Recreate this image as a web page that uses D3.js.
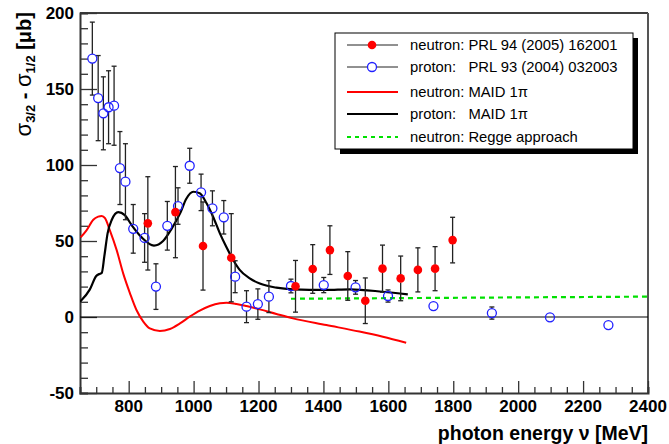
<!DOCTYPE html>
<html>
<head>
<meta charset="utf-8">
<script src="https://cdn.jsdelivr.net/npm/d3@7"></script>
<style>
  body { margin: 0; background: #fff; }
  svg { font-family: "Liberation Sans", Arial, sans-serif; }
</style>
</head>
<body>
<svg id="svg" width="669" height="444"></svg>
<script>
"use strict";

// neutron data, PRL 94 (2005) 162001
const neutronE = [859, 944, 1029, 1116, 1314, 1367, 1420, 1475, 1529, 1582, 1638, 1691, 1744, 1798];
const neutronV = [61.6, 69, 46.7, 39, 20.2, 31.6, 44, 27, 10.7, 31.8, 25.4, 31, 31.8, 50.6];
const neutronErr = [30.7, 30, 29, 29, 17, 16, 16, 16, 15, 15.5, 14.7, 14.5, 14.5, 15];

// proton data, PRL 93 (2004) 032003
const protonE = [688, 706, 722, 738, 755, 773, 790, 814, 849, 884, 919, 952, 988, 1023, 1058, 1093, 1128, 1163, 1198, 1232, 1300, 1401, 1499, 1599, 1739, 1919, 2098, 2278];
const protonV = [170, 144, 134, 138, 139, 98, 89, 58, 52, 20, 60, 73, 99.5, 82, 71.5, 65.6, 26.5, 6.8, 8.5, 13.4, 20.4, 21, 19.5, 13.8, 7.2, 2.6, -0.2, -5.3];
const protonErr = [24, 28, 24, 24, 26, 24, 25, 16, 16, 15, 16, 12, 11.5, 12, 11.5, 11, 10.5, 10.5, 10, 10.5, 4.5, 5, 4.5, 4, 0, 4, 0, 0];

// MAID 1pi curves
const maidProtonE = [650, 680, 700, 712, 717, 725, 735, 748, 768, 788, 809, 840, 878, 906, 932, 958, 978, 999, 1019, 1040, 1060, 1081, 1101, 1122, 1142, 1173, 1204, 1255, 1306, 1408, 1481, 1583, 1660];
const maidProtonV = [10, 18, 27, 28.5, 29, 40, 55, 64, 69, 67, 60.5, 52.4, 47, 50, 58, 68, 78, 82.4, 81.4, 74.8, 66, 55, 46, 37.5, 31, 25.4, 22, 19.3, 18.2, 17.8, 18.2, 16.6, 14.9];
const maidNeutronE = [652, 670, 691, 706, 717, 727, 742, 763, 783, 804, 824, 845, 865, 896, 927, 958, 988, 1019, 1050, 1081, 1101, 1132, 1163, 1204, 1255, 1306, 1409, 1511, 1583, 1655];
const maidNeutronV = [52.4, 57, 64, 66, 66.5, 65, 57, 44, 28.7, 15.6, 4.6, -3, -7.5, -9.2, -7.9, -4.2, 0.2, 4.2, 7.2, 9, 9.4, 8.6, 7.2, 5, 2, -0.9, -5.3, -9.6, -13, -16.9];

// Regge approach (neutron)
const reggeE = [1300, 1700, 2000, 2400];
const reggeV = [12, 12.5, 12.9, 13.4];

const xTicks = [800, 1000, 1200, 1400, 1600, 1800, 2000, 2200, 2400];
const yTicks = [-50, 0, 50, 100, 150, 200];

const legendLabels = [
    "neutron: PRL 94 (2005) 162001",
    "proton:   PRL 93 (2004) 032003",
    "neutron: MAID 1\u03c0",
    "proton:   MAID 1\u03c0",
    "neutron: Regge approach"
];

const plotLeft = 80, plotRight = 648, plotTop = 13, plotBottom = 393;
const axisColor = "#333";

var svg = d3.select("svg");

var x = d3.scaleLinear().domain([650, 2400]).range([plotLeft, plotRight]);
var y = d3.scaleLinear().domain([-50, 200]).range([plotBottom, plotTop]);

svg.append("clipPath").attr("id", "plotclip")
    .append("rect")
        .attr("x", plotLeft).attr("y", plotTop)
        .attr("width", plotRight - plotLeft).attr("height", plotBottom - plotTop);

// frame: top and right
svg.append("line")
    .attr("x1", plotLeft).attr("x2", plotRight).attr("y1", plotTop).attr("y2", plotTop)
    .attr("stroke", "#000").attr("stroke-width", 1.5);
svg.append("line")
    .attr("x1", plotRight).attr("x2", plotRight).attr("y1", plotTop).attr("y2", plotBottom)
    .attr("stroke", "#555").attr("stroke-width", 2);

// axes with inward ticks
var xAxis = svg.append("g").attr("transform", "translate(0," + plotBottom + ")");
xAxis.call(d3.axisBottom(x).tickValues(d3.range(700, 2401, 50)).tickSize(-6).tickFormat(""));
xAxis.selectAll(".tick line").filter(d => d % 200 === 0).attr("y2", -12);
xAxis.selectAll(".tick line").attr("stroke", axisColor).attr("stroke-width", 1.3);
xAxis.select(".domain").attr("stroke", axisColor).attr("stroke-width", 2);

var yAxis = svg.append("g").attr("transform", "translate(" + plotLeft + ",0)");
yAxis.call(d3.axisLeft(y).tickValues(d3.range(-50, 201, 10)).tickSize(-8).tickFormat(""));
yAxis.selectAll(".tick line").filter(d => d % 50 === 0).attr("x2", 17);
yAxis.selectAll(".tick line").attr("stroke", axisColor).attr("stroke-width", 1.3);
yAxis.select(".domain").attr("stroke", axisColor).attr("stroke-width", 2);

// tick labels
svg.append("g").selectAll("text")
    .data(xTicks)
    .enter()
    .append("text")
        .attr("x", d => x(d))
        .attr("y", 412)
        .attr("text-anchor", "middle")
        .attr("font-size", 17)
        .attr("font-weight", "bold")
        .text(d => d);

svg.append("g").selectAll("text")
    .data(yTicks)
    .enter()
    .append("text")
        .attr("x", 74)
        .attr("y", d => y(d) + 6)
        .attr("text-anchor", "end")
        .attr("font-size", 17)
        .attr("font-weight", "bold")
        .text(d => d);

// axis titles
svg.append("text")
    .attr("x", 648).attr("y", 440)
    .attr("text-anchor", "end")
    .attr("font-size", 19.5)
    .attr("font-weight", "bold")
    .text("photon energy \u03bd [MeV]");

var ytitle = svg.append("text")
    .attr("transform", "translate(31,12) rotate(-90)")
    .attr("text-anchor", "end")
    .attr("font-size", 20)
    .attr("font-weight", "bold");
ytitle.append("tspan").attr("font-weight", "normal").attr("font-size", 22).text("\u03c3");
ytitle.append("tspan").attr("font-size", 13).attr("dy", 4).text("3/2");
ytitle.append("tspan").attr("dy", -4).text(" - ");
ytitle.append("tspan").attr("font-weight", "normal").attr("font-size", 22).text("\u03c3");
ytitle.append("tspan").attr("font-size", 13).attr("dy", 4).text("1/2");
ytitle.append("tspan").attr("dy", -4).text(" [\u03bcb]");

var plot = svg.append("g").attr("clip-path", "url(#plotclip)");

// zero line
plot.append("line")
    .attr("x1", plotLeft).attr("x2", plotRight)
    .attr("y1", y(0)).attr("y2", y(0))
    .attr("stroke", "#000").attr("stroke-width", 1.2);

var line = d3.line()
    .x(d => x(d[0]))
    .y(d => y(d[1]))
    .curve(d3.curveMonotoneX);

plot.append("path")
    .datum(d3.zip(maidNeutronE, maidNeutronV))
    .attr("d", line)
    .attr("fill", "none")
    .attr("stroke", "#ff0000")
    .attr("stroke-width", 2);

plot.append("path")
    .datum(d3.zip(maidProtonE, maidProtonV))
    .attr("d", line)
    .attr("fill", "none")
    .attr("stroke", "#000")
    .attr("stroke-width", 2.2);

plot.append("path")
    .datum(d3.zip(reggeE, reggeV))
    .attr("d", d3.line().x(d => x(d[0])).y(d => y(d[1])))
    .attr("fill", "none")
    .attr("stroke", "#00e000")
    .attr("stroke-width", 2.2)
    .attr("stroke-dasharray", "5,4");

function errorBars(es, vs, errs, r)
{
    var data = d3.zip(es, vs, errs).filter(d => d[2] > 0);
    var g = plot.append("g")
        .attr("stroke", "#222")
        .attr("stroke-width", 1.3);
    data.forEach(function(d) {
        var cx = x(d[0]), cy = y(d[1]);
        var yTop = y(d[1] + d[2]), yBot = y(d[1] - d[2]);
        if (yTop < cy - r)
            g.append("line").attr("x1", cx).attr("x2", cx).attr("y1", yTop).attr("y2", cy - r);
        if (yBot > cy + r)
            g.append("line").attr("x1", cx).attr("x2", cx).attr("y1", cy + r).attr("y2", yBot);
        g.append("line").attr("x1", cx - 2.5).attr("x2", cx + 2.5).attr("y1", yTop).attr("y2", yTop);
        g.append("line").attr("x1", cx - 2.5).attr("x2", cx + 2.5).attr("y1", yBot).attr("y2", yBot);
    });
}

errorBars(protonE, protonV, protonErr, 4.5);
errorBars(neutronE, neutronV, neutronErr, 4);

plot.append("g").selectAll("circle")
    .data(d3.zip(protonE, protonV))
    .enter()
    .append("circle")
        .attr("cx", d => x(d[0]))
        .attr("cy", d => y(d[1]))
        .attr("r", 4.5)
        .attr("fill", "none")
        .attr("stroke", "#2020ff")
        .attr("stroke-width", 1.3);

plot.append("g").selectAll("circle")
    .data(d3.zip(neutronE, neutronV))
    .enter()
    .append("circle")
        .attr("cx", d => x(d[0]))
        .attr("cy", d => y(d[1]))
        .attr("r", 4.3)
        .attr("fill", "#ff0000");

// legend
var legend = svg.append("g");
legend.append("rect")
    .attr("x", 340).attr("y", 38).attr("width", 298).attr("height", 116)
    .attr("fill", "#000");
legend.append("rect")
    .attr("x", 335).attr("y", 33).attr("width", 298).attr("height", 116)
    .attr("fill", "#fff").attr("stroke", "#000").attr("stroke-width", 1);

const rowY = [45, 67, 92, 114, 137];
legend.selectAll("text")
    .data(legendLabels)
    .enter()
    .append("text")
        .attr("x", 410)
        .attr("y", (d, i) => rowY[i] + 5)
        .attr("font-size", 14.8)
        .style("white-space", "pre")
        .text(d => d);

var sample = [
    {stroke: "#222", width: 1, dash: null},
    {stroke: "#222", width: 1, dash: null},
    {stroke: "#ff0000", width: 2, dash: null},
    {stroke: "#000", width: 2, dash: null},
    {stroke: "#00e000", width: 2, dash: "4,4"}
];
legend.selectAll(".sample")
    .data(sample)
    .enter()
    .append("line")
        .attr("class", "sample")
        .attr("x1", 347).attr("x2", 398)
        .attr("y1", (d, i) => rowY[i]).attr("y2", (d, i) => rowY[i])
        .attr("stroke", d => d.stroke)
        .attr("stroke-width", d => d.width)
        .attr("stroke-dasharray", d => d.dash);

legend.append("circle")
    .attr("cx", 372).attr("cy", rowY[0]).attr("r", 4.3).attr("fill", "#ff0000");
legend.append("circle")
    .attr("cx", 372).attr("cy", rowY[1]).attr("r", 4.5)
    .attr("fill", "#fff").attr("stroke", "#2020ff").attr("stroke-width", 1.3);
</script>
</body>
</html>
